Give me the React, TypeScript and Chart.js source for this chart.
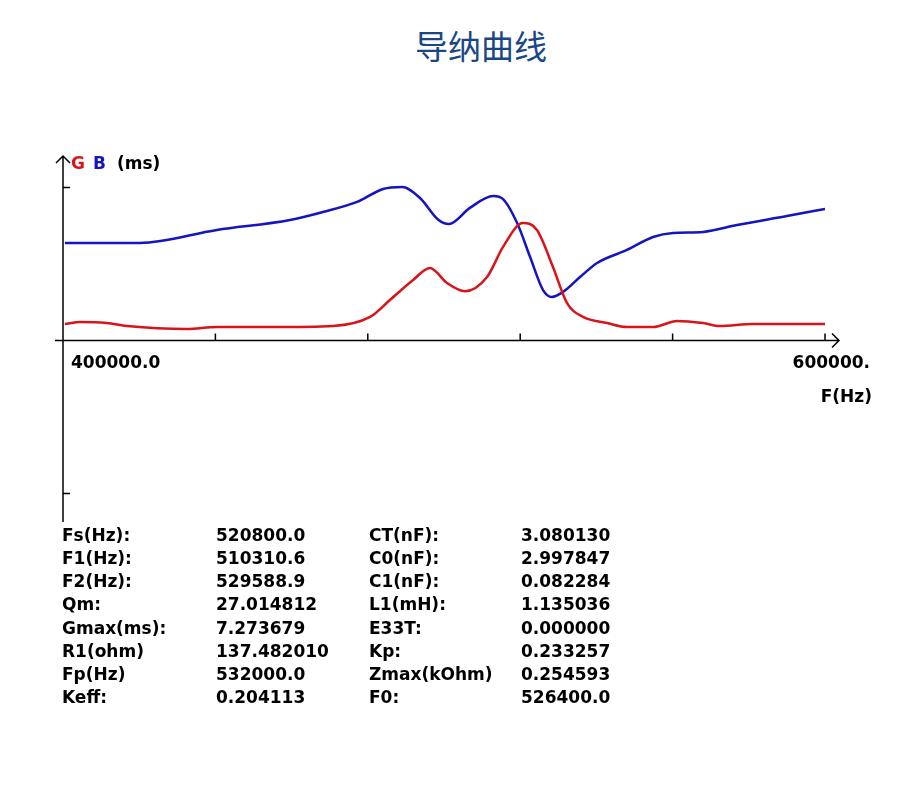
import { Chart, registerables } from 'chart.js';
import { useEffect, useRef } from 'react';

Chart.register(...registerables);

// Conductance G (red), frequency in Hz / value in ms
const gFreq = [400500, 404500, 411500, 416800, 432500, 440400, 455100, 470900, 480600, 485800, 491900, 496300, 500800, 505500, 511300, 515500, 520700, 524400, 528600, 532300, 536500, 542800, 548000, 554900, 561200, 568000, 572400, 581100, 600000];
const gValues = [1.08, 1.21, 1.14, 0.95, 0.75, 0.88, 0.88, 0.95, 1.54, 2.65, 3.96, 4.74, 3.76, 3.22, 4.15, 6.12, 7.68, 7.23, 4.81, 2.45, 1.54, 1.14, 0.88, 0.88, 1.28, 1.14, 0.95, 1.08, 1.08];

// Susceptance B (blue)
const bFreq = [400500, 420200, 440400, 459600, 468200, 477200, 484000, 489000, 493700, 498500, 501300, 506800, 512900, 515500, 519200, 522600, 526000, 528300, 531200, 535700, 540200, 548000, 554900, 560100, 568000, 576900, 590000, 600000];
const bValues = [6.38, 6.38, 7.23, 7.88, 8.4, 9.06, 9.91, 10.04, 9.32, 7.9, 7.62, 8.67, 9.45, 9.25, 7.68, 5.46, 3.3, 2.85, 3.17, 4.15, 5.07, 5.92, 6.77, 7.03, 7.1, 7.55, 8.14, 8.6];

const xMin = 400000;
const xMax = 600000;
const xTickValues = [440000, 480000, 520000, 560000, 600000];
const yTickValues = [10, -10];
const xEndLabels = ['400000.0', '600000.'];
const xTitle = 'F(Hz)';

// parameter table
const leftNames = ['Fs(Hz):', 'F1(Hz):', 'F2(Hz):', 'Qm:', 'Gmax(ms):', 'R1(ohm)', 'Fp(Hz)', 'Keff:'];
const leftValues = ['520800.0', '510310.6', '529588.9', '27.014812', '7.273679', '137.482010', '532000.0', '0.204113'];
const rightNames = ['CT(nF):', 'C0(nF):', 'C1(nF):', 'L1(mH):', 'E33T:', 'Kp:', 'Zmax(kOhm)', 'F0:'];
const rightValues = ['3.080130', '2.997847', '0.082284', '1.135036', '0.000000', '0.233257', '0.254593', '526400.0'];

const RED = '#d8141a';
const BLUE = '#1414c0';
const FONT = 'bold 17px "DejaVu Sans"';

const axesPlugin = {
  id: 'admittanceAxes',
  beforeDatasetsDraw(chart: Chart) {
    const { ctx } = chart;
    const xs = chart.scales.x;
    const ys = chart.scales.y;
    const x0 = xs.getPixelForValue(xMin);
    const y0 = ys.getPixelForValue(0);
    ctx.save();
    ctx.strokeStyle = '#000';
    ctx.lineWidth = 1.5;
    ctx.beginPath();
    // x axis + arrow
    ctx.moveTo(x0 - 8, y0);
    ctx.lineTo(xs.right + 14, y0);
    ctx.moveTo(xs.right + 7, y0 - 7);
    ctx.lineTo(xs.right + 14, y0);
    ctx.lineTo(xs.right + 7, y0 + 7);
    // y axis + arrow
    ctx.moveTo(x0, ys.bottom - 2);
    ctx.lineTo(x0, ys.top - 1);
    ctx.moveTo(x0 - 7, ys.top + 6);
    ctx.lineTo(x0, ys.top - 1);
    ctx.lineTo(x0 + 7, ys.top + 6);
    xTickValues.forEach(v => {
      const px = xs.getPixelForValue(v);
      ctx.moveTo(px, y0 - 7);
      ctx.lineTo(px, y0);
    });
    yTickValues.forEach(v => {
      const py = ys.getPixelForValue(v);
      ctx.moveTo(x0, py);
      ctx.lineTo(x0 + 7, py);
    });
    ctx.stroke();

    ctx.font = FONT;
    ctx.fillStyle = '#000';
    ctx.textBaseline = 'alphabetic';
    ctx.textAlign = 'left';
    ctx.fillText(xEndLabels[0], x0 + 8, y0 + 27);
    ctx.textAlign = 'right';
    ctx.fillText(xEndLabels[1], xs.right + 45, y0 + 27);
    ctx.fillText(xTitle, xs.right + 47, y0 + 61);

    // y axis title: G B (ms)
    ctx.textAlign = 'left';
    const ty = ys.top + 12;
    ctx.fillStyle = RED;
    ctx.fillText('G', x0 + 8, ty);
    ctx.fillStyle = BLUE;
    ctx.fillText('B', x0 + 30, ty);
    ctx.fillStyle = '#000';
    ctx.fillText('(ms)', x0 + 54, ty);
    ctx.restore();
  },
};

const toPoints = (xs: number[], ys: number[]) => xs.map((x, i) => ({ x, y: ys[i] }));

export default function App() {
  const canvasRef = useRef<HTMLCanvasElement | null>(null);
  const chartRef = useRef<Chart | null>(null);

  useEffect(() => {
    if (!canvasRef.current) return;
    chartRef.current?.destroy();
    chartRef.current = new Chart(canvasRef.current, {
      type: 'line',
      data: {
        datasets: [
          {
            label: 'G',
            data: toPoints(gFreq, gValues),
            borderColor: RED,
            borderWidth: 2.5,
            pointRadius: 0,
            cubicInterpolationMode: 'monotone',
          },
          {
            label: 'B',
            data: toPoints(bFreq, bValues),
            borderColor: BLUE,
            borderWidth: 2.5,
            pointRadius: 0,
            cubicInterpolationMode: 'monotone',
          },
        ],
      },
      options: {
        animation: false,
        responsive: false,
        events: [],
        layout: { padding: { left: 63, right: 87, top: 157, bottom: 265 } },
        scales: {
          x: { type: 'linear', min: xMin, max: xMax, display: false },
          y: { min: -12, max: 12, display: false },
        },
        plugins: { legend: { display: false }, tooltip: { enabled: false } },
      },
      plugins: [axesPlugin],
    });
    return () => {
      chartRef.current?.destroy();
      chartRef.current = null;
    };
  }, []);

  const cols = [
    { left: 62, items: leftNames },
    { left: 216, items: leftValues },
    { left: 369, items: rightNames },
    { left: 521, items: rightValues },
  ];

  return (
    <div style={{ position: 'absolute', left: 0, top: 0, width: 912, height: 789, background: '#fff' }}>
      <div
        style={{
          position: 'absolute', left: 25, width: 912, top: 25, textAlign: 'center',
          font: '33px "Noto Sans CJK SC"', color: '#1a4784', lineHeight: '40px',
        }}
      >
        导纳曲线
      </div>
      <canvas ref={canvasRef} width={912} height={789} style={{ position: 'absolute', left: 0, top: 0, width: 912, height: 789 }} />
      {cols.map((c, ci) =>
        c.items.map((t, ri) => (
          <div
            key={`${ci}-${ri}`}
            style={{
              position: 'absolute', left: c.left, top: 524 + ri * 23.15,
              font: FONT, lineHeight: '23px', color: '#000', whiteSpace: 'nowrap',
            }}
          >
            {t}
          </div>
        ))
      )}
    </div>
  );
}
